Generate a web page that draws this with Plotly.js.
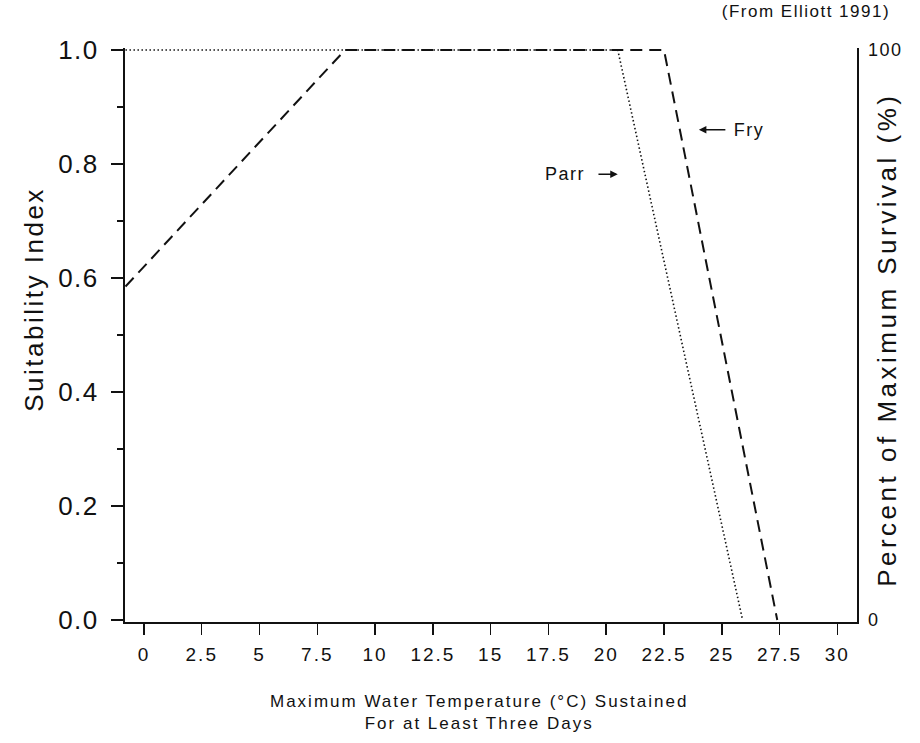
<!DOCTYPE html>
<html>
<head>
<meta charset="utf-8">
<script src="https://cdn.plot.ly/plotly-3.0.1.min.js"></script>
<style>
  html, body { margin: 0; padding: 0; background: #ffffff; }
  #chart { width: 920px; height: 743px; }
  #chart svg text { letter-spacing: 1.5px; }
  #chart .xtick text { letter-spacing: 2px; }
  #chart .annotation[data-index="0"] text { letter-spacing: 2.5px; }
  #chart .annotation[data-index="1"] text { letter-spacing: 3.5px; }
  #chart .annotation[data-index="2"] text { letter-spacing: 2px; }
</style>
</head>
<body>
<div id="chart"></div>
<script>
// Temperature (°C) and suitability index for each life stage
const fryTemp = [-0.8, 8.7, 22.5, 27.4];
const frySI   = [0.585, 1.0, 1.0, 0.0];
const parrTemp = [-0.8, 20.5, 25.9];
const parrSI   = [1.0, 1.0, 0.0];

// Axis ticks
const xTicks = [0, 2.5, 5, 7.5, 10, 12.5, 15, 17.5, 20, 22.5, 25, 27.5, 30];
const xTickText = ['0', '2.5', '5', '7.5', '10', '12.5', '15', '17.5', '20', '22.5', '25', '27.5', '30'];
const yTicks = [0, 0.2, 0.4, 0.6, 0.8, 1.0];
const survivalTicks = [0, 100];
const survivalTickText = ['0', '100'];

const ink = '#111111';
const FONT = '"Liberation Sans", Arial, Helvetica, sans-serif';

const traces = [
  {
    x: parrTemp, y: parrSI, type: 'scatter', mode: 'lines', name: 'Parr',
    line: { color: ink, width: 1.6, dash: '1.5px,2.5px' }, hoverinfo: 'x+y'
  },
  {
    x: fryTemp, y: frySI, type: 'scatter', mode: 'lines', name: 'Fry',
    line: { color: ink, width: 2, dash: '12px,7px' }, hoverinfo: 'x+y'
  },
  {
    // same curve on the percent-survival scale, keeps the right axis active
    x: fryTemp, y: frySI.map(v => v * 100), type: 'scatter', mode: 'lines',
    yaxis: 'y2', line: { width: 0 }, opacity: 0, hoverinfo: 'skip', showlegend: false
  }
];

const layout = {
  width: 920, height: 743,
  margin: { l: 125, r: 63, t: 48, b: 121 },
  paper_bgcolor: '#ffffff', plot_bgcolor: '#ffffff',
  showlegend: false,
  font: { family: FONT, color: ink },
  xaxis: {
    range: [-0.82, 30.85],
    tickvals: xTicks, ticktext: xTickText,
    ticks: 'outside', ticklen: 11, tickwidth: 1.5, tickcolor: ink,
    ticklabelstandoff: 3,
    showline: true, linecolor: ink, linewidth: 2,
    showgrid: false, zeroline: false,
    tickfont: { size: 19, color: ink }
  },
  yaxis: {
    range: [-0.0035, 1.0035],
    tickvals: yTicks, tickformat: '.1f',
    ticks: 'outside', ticklen: 12, tickwidth: 1.5, tickcolor: ink,
    ticklabelstandoff: 7,
    minor: { dtick: 0.1, tick0: 0, ticks: 'outside', ticklen: 6, tickwidth: 1.5, tickcolor: ink },
    showline: true, linecolor: ink, linewidth: 2,
    showgrid: false, zeroline: false,
    tickfont: { size: 26, color: ink }
  },
  yaxis2: {
    overlaying: 'y', side: 'right',
    range: [-0.35, 100.35],
    tickvals: survivalTicks, ticktext: survivalTickText,
    ticks: '', ticklabelstandoff: 6,
    showline: true, linecolor: ink, linewidth: 1.5,
    showgrid: false, zeroline: false,
    tickfont: { size: 18, color: ink }
  },
  annotations: [
    { text: 'Suitability Index', xref: 'paper', yref: 'paper', x: -0.125, y: 0.561,
      textangle: -90, showarrow: false, xanchor: 'center', yanchor: 'middle',
      font: { size: 26, color: ink } },
    { text: 'Percent of Maximum Survival (%)', xref: 'paper', yref: 'paper', x: 1.041, y: 0.492,
      textangle: -90, showarrow: false, xanchor: 'center', yanchor: 'middle',
      font: { size: 26, color: ink } },
    { text: 'Maximum Water Temperature (°C) Sustained<br>For at Least Three Days',
      xref: 'paper', yref: 'paper', x: 0.4836, y: -0.158, showarrow: false,
      xanchor: 'center', yanchor: 'middle', font: { size: 17, color: ink } },
    { text: '(From Elliott 1991)', xref: 'paper', yref: 'paper', x: 0.930, y: 1.063,
      showarrow: false, xanchor: 'center', yanchor: 'middle', font: { size: 17, color: ink } },
    // stage labels with pointer arrows
    { text: 'Parr', xref: 'x', yref: 'y', x: 18.21, y: 0.782, showarrow: false,
      xanchor: 'center', yanchor: 'middle', font: { size: 18, color: ink } },
    { text: '', xref: 'x', yref: 'y', x: 20.5, y: 0.782, axref: 'x', ayref: 'y', ax: 19.6, ay: 0.782,
      showarrow: true, arrowhead: 2, arrowsize: 1, arrowwidth: 1.5, arrowcolor: ink, standoff: 0 },
    { text: 'Fry', xref: 'x', yref: 'y', x: 26.17, y: 0.86, showarrow: false,
      xanchor: 'center', yanchor: 'middle', font: { size: 18, color: ink } },
    { text: '', xref: 'x', yref: 'y', x: 24.01, y: 0.86, axref: 'x', ayref: 'y', ax: 25.22, ay: 0.86,
      showarrow: true, arrowhead: 2, arrowsize: 1, arrowwidth: 1.5, arrowcolor: ink, standoff: 0 }
  ]
};

Plotly.newPlot('chart', traces, layout, { displayModeBar: false, staticPlot: true });
</script>
</body>
</html>
